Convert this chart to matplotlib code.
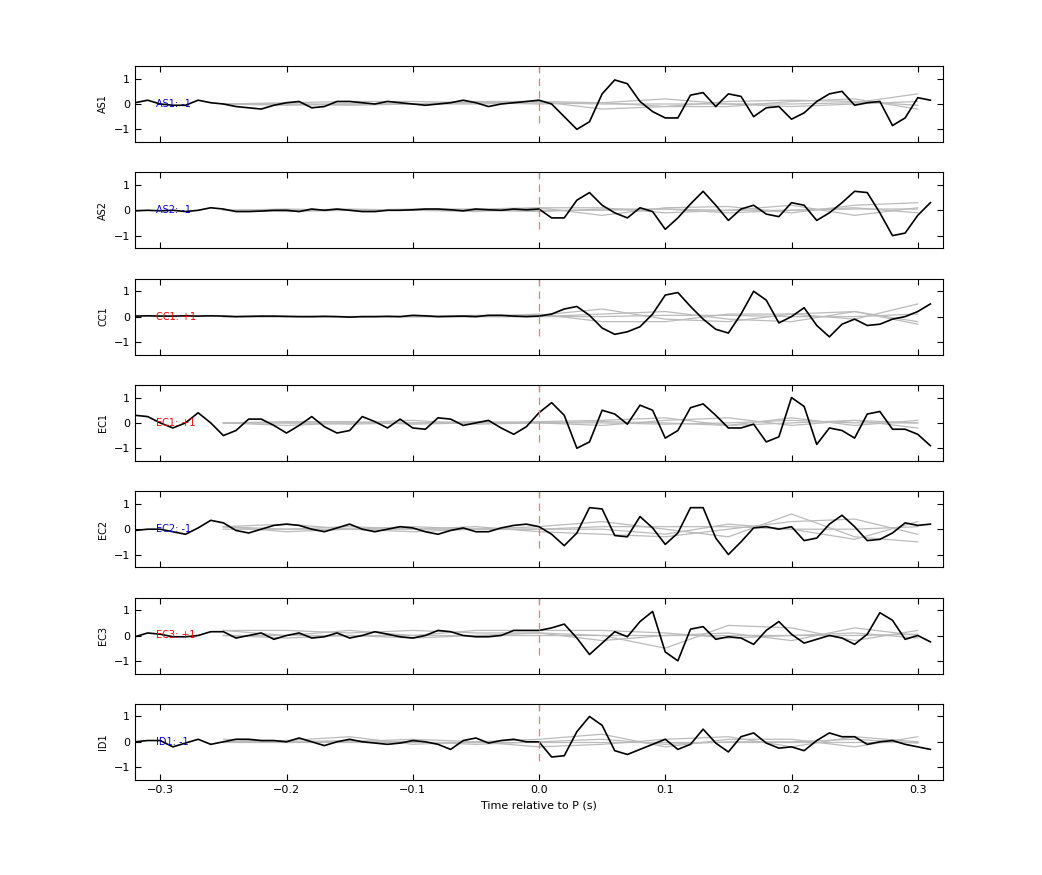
import numpy as np
import matplotlib
matplotlib.use("Agg")
import matplotlib.pyplot as plt

stations = ["AS1", "AS2", "CC1", "EC1", "EC2", "EC3", "ID1"]
polarity = [-1, -1, 1, 1, -1, 1, -1]
t = np.round(np.arange(-0.32, 0.315, 0.01), 2)

black = {
"AS1": [0.05,0.15,0.0,-0.05,-0.05,0.15,0.05,0.0,-0.1,-0.15,-0.2,-0.05,0.05,0.1,-0.15,-0.1,0.1,0.1,0.05,0.0,0.1,0.05,0.0,-0.05,0.0,0.05,0.15,0.05,-0.1,0.0,0.05,0.1,0.15,0.0,
        -0.5,-1.0,-0.7,0.4,0.95,0.8,0.1,-0.3,-0.55,-0.55,0.35,0.45,-0.1,0.4,0.3,-0.5,-0.15,-0.1,-0.6,-0.35,0.1,0.4,0.5,-0.05,0.05,0.1,-0.85,-0.55,0.25,0.15,0.2][:64],
"AS2": [-0.02,0.0,-0.02,0.0,-0.05,0.0,0.1,0.05,-0.05,-0.05,-0.03,0.0,0.0,-0.05,0.05,0.0,0.05,0.0,-0.05,-0.05,0.0,0.0,0.02,0.05,0.05,0.02,-0.02,0.05,0.02,0.0,0.05,0.02,0.05,
        -0.3,-0.3,0.4,0.7,0.2,-0.1,-0.3,0.1,-0.05,-0.75,-0.3,0.25,0.75,0.2,-0.4,0.05,0.2,-0.15,-0.25,0.3,0.2,-0.4,-0.1,0.3,0.75,0.7,-0.1,-1.0,-0.9,-0.2,0.3],
"CC1": [0.02,0.03,0.02,0.02,0.03,0.02,0.03,0.02,0.0,0.01,0.02,0.02,0.01,0.0,0.0,0.01,0.0,-0.02,0.0,0.0,0.01,0.0,0.05,0.03,0.0,0.01,0.02,0.0,0.05,0.05,0.02,0.0,0.02,
        0.1,0.3,0.4,0.05,-0.45,-0.7,-0.6,-0.4,0.1,0.85,0.95,0.4,-0.1,-0.5,-0.65,0.1,1.0,0.65,-0.25,0.0,0.35,-0.35,-0.8,-0.3,-0.1,-0.35,-0.3,-0.1,0.0,0.2,0.5],
"EC1": [0.3,0.25,0.0,-0.2,0.0,0.4,0.0,-0.5,-0.3,0.15,0.15,-0.1,-0.4,-0.1,0.25,-0.15,-0.4,-0.3,0.25,0.05,-0.2,0.15,-0.2,-0.25,0.2,0.15,-0.1,0.0,0.1,-0.2,-0.45,-0.15,0.4,
        0.8,0.3,-1.0,-0.75,0.5,0.35,-0.05,0.7,0.5,-0.6,-0.3,0.6,0.75,0.3,-0.2,-0.2,-0.05,-0.75,-0.55,1.0,0.65,-0.85,-0.2,-0.3,-0.6,0.35,0.45,-0.25,-0.25,-0.45,-0.9],
"EC2": [-0.05,0.0,0.0,-0.1,-0.2,0.05,0.35,0.25,-0.05,-0.15,0.0,0.15,0.2,0.15,0.0,-0.1,0.05,0.2,0.0,-0.1,0.0,0.1,0.05,-0.1,-0.2,-0.05,0.05,-0.1,-0.1,0.05,0.15,0.2,0.1,
        -0.2,-0.65,-0.15,0.85,0.8,-0.25,-0.3,0.5,0.05,-0.6,-0.15,0.85,0.85,-0.35,-1.0,-0.5,0.05,0.1,0.0,0.1,-0.45,-0.35,0.2,0.55,0.1,-0.45,-0.4,-0.15,0.25,0.15,0.2],
"EC3": [-0.05,0.1,0.05,-0.05,-0.05,0.0,0.15,0.15,-0.1,0.0,0.1,-0.15,0.0,0.1,-0.1,-0.05,0.1,-0.1,0.0,0.15,0.05,-0.05,-0.1,0.0,0.2,0.15,0.0,-0.05,-0.05,0.0,0.2,0.2,0.2,
        0.3,0.45,-0.1,-0.75,-0.3,0.15,-0.05,0.55,0.95,-0.65,-1.0,0.25,0.35,-0.15,-0.05,-0.1,-0.35,0.2,0.55,0.05,-0.3,-0.15,0.0,-0.1,-0.35,0.05,0.9,0.6,-0.15,0.0,-0.25],
"ID1": [0.0,0.05,0.05,-0.2,-0.05,0.1,-0.1,0.0,0.1,0.1,0.05,0.05,0.0,0.15,0.0,-0.15,0.0,0.1,0.0,-0.05,-0.1,-0.05,0.05,0.0,-0.1,-0.3,0.05,0.15,-0.05,0.05,0.1,0.0,0.0,
        -0.6,-0.55,0.4,1.0,0.65,-0.35,-0.5,-0.3,-0.1,0.1,-0.3,-0.1,0.5,-0.05,-0.4,0.2,0.35,-0.05,-0.25,-0.2,-0.35,0.05,0.35,0.2,0.2,-0.1,0.0,0.05,-0.1,-0.2,-0.3],
}

tg = np.round(np.arange(-0.25, 0.321, 0.05), 2)
gray = {
"AS1": [[0,0.05,0.1,0.1,0.05,0.1,-0.2,-0.1,0.1,0.15,0.1,-0.05],
        [0,-0.05,0,0,0.1,0.1,0.05,0.2,0,-0.1,0.0,0.1],
        [0,0,-0.05,0,0.05,0.0,0.05,-0.1,-0.1,0.1,0.2,-0.2],
        [0,0,0,0,0,0.05,0,0,0,0,0.05,0.4]],
"AS2": [[0,0.05,0,0.05,0.05,0.1,-0.2,0.1,0.15,-0.1,0.2,0.3],
        [0,-0.05,0,0,-0.05,0.1,0.1,-0.1,0,0.2,-0.2,0.1],
        [0,0,0.05,0,0,-0.05,0.05,0.05,-0.1,0,0.1,-0.1],
        [0,0,0,0,0,0,0,0.05,0,0,0.05,0.05]],
"CC1": [[0,0,0,0,0.05,0.05,0.3,-0.1,-0.2,0.1,0.2,-0.2],
        [0,0,0,0,0,0.1,-0.2,-0.2,0.1,0.1,-0.1,0.5],
        [0,0,0,0,0,0,0.1,0.2,-0.1,-0.2,0.2,-0.3],
        [0,0,0,0,0,0,0,0.05,0.05,0,0,0.1]],
"EC1": [[0,0.05,0.05,-0.05,0,0.05,0.1,0.2,-0.1,0.2,-0.1,0.1],
        [0,-0.1,0,0.1,-0.05,0,-0.1,0.1,0.2,-0.1,0.1,-0.2],
        [0,0,0,0,0,0,0,-0.05,0,0.1,0,0],
        [0,0,-0.05,0,0.05,0,0.05,0,-0.1,0,0.1,0]],
"EC2": [[0.1,0.2,0,-0.1,0,0.1,0.3,0,-0.3,0.6,-0.3,-0.5],
        [0.1,0,0.1,0,0.1,-0.1,-0.2,-0.3,0,0.3,0.4,-0.2],
        [0,0,0,0,0,0,0.1,0.1,0.1,0,0,0.1],
        [0.1,-0.1,0,0.1,0,0,0,-0.2,0.2,0,-0.4,0.3]],
"EC3": [[0.2,0.2,0.1,0.2,0.1,0.1,0,-0.5,0.4,0.3,-0.2,0.2],
        [0.2,0,0.2,0,0.2,0.2,0.2,0.1,-0.1,0,0.1,-0.1],
        [0,-0.1,0,-0.1,0,0.1,-0.2,0,0.1,-0.2,0.3,0],
        [0,0,0,0,0,0,0,0,0,0,0,0.05]],
"ID1": [[0,0.05,0.2,-0.1,0,0.1,0.3,-0.2,0.1,0.1,-0.2,0.2],
        [0,0,0,0.1,0,-0.2,-0.1,0.1,0.2,-0.2,0.2,0],
        [0,0,0,0,0,0,0,0,0,0,0,0],
        [0.1,0,0.05,0,-0.1,0,0.1,-0.1,0,0,0.1,-0.05]],
}

W, H = 1042, 875
fig = plt.figure(figsize=(W/100, H/100), dpi=100)
left, right = 135/W, 943/W
pitch = 106.3
for i, st in enumerate(stations):
    top = 66 + i*pitch
    ax = fig.add_axes([left, 1-(top+76)/H, right-left, 76/H])
    for g in gray[st]:
        ax.plot(tg, g, color="#bbbbbb", lw=0.9)
    ax.plot(t, black[st], color="black", lw=1.2)
    ax.axvline(0, color="#e08080", lw=0.9, ls=(0, (6, 4)), ymin=0.25, ymax=1)
    ax.set_xlim(-0.32, 0.32)
    ax.set_ylim(-1.5, 1.5)
    ax.set_yticks([-1, 0, 1])
    ax.set_xticks([-0.3, -0.2, -0.1, 0, 0.1, 0.2, 0.3])
    ax.tick_params(direction="in", top=True, right=True, labelsize=8, length=4)
    if i < len(stations)-1:
        ax.set_xticklabels([])
    ax.set_ylabel(st, fontsize=7)
    p = polarity[i]
    ax.text(-0.303, 0, f"{st}: {'+1' if p > 0 else '-1'}", color="red" if p > 0 else "#0000cc",
            fontsize=7, va="center")
ax.set_xlabel("Time relative to P (s)", fontsize=8)
fig.savefig("out.png", dpi=100)
